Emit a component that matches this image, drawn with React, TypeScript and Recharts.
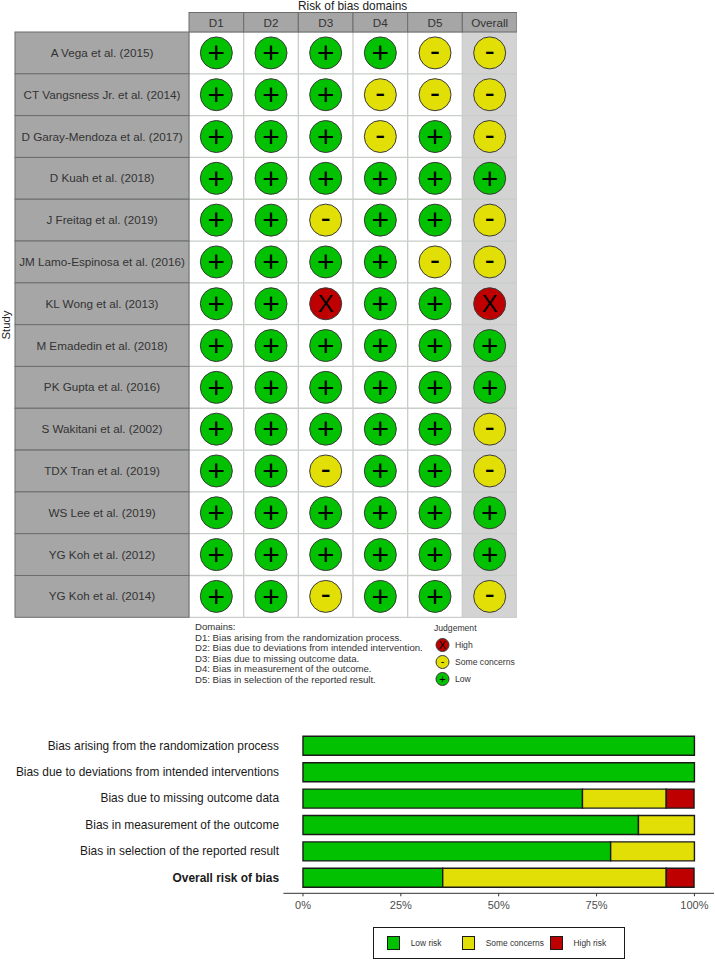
import {
  Bar,
  BarChart,
  Legend,
  ReferenceArea,
  ReferenceLine,
  Scatter,
  ScatterChart,
  XAxis,
  YAxis,
} from "recharts";

const FONT = '"Liberation Sans", Arial, sans-serif';

const studies = [
  "A Vega et al. (2015)",
  "CT Vangsness Jr. et al. (2014)",
  "D Garay-Mendoza et al. (2017)",
  "D Kuah et al. (2018)",
  "J Freitag et al. (2019)",
  "JM Lamo-Espinosa et al. (2016)",
  "KL Wong et al. (2013)",
  "M Emadedin et al. (2018)",
  "PK Gupta et al. (2016)",
  "S Wakitani et al. (2002)",
  "TDX Tran et al. (2019)",
  "WS Lee et al. (2019)",
  "YG Koh et al. (2012)",
  "YG Koh et al. (2014)",
];
const domains = ["D1", "D2", "D3", "D4", "D5", "Overall"];

// one string per domain, one character per study
const d1 = "++++++++++++++";
const d2 = "++++++++++++++";
const d3 = "++++-+X+++-++-";
const d4 = "+--+++++++++++";
const d5 = "--+++-++++++++";
const overall = "---+--X++--++-";
const judgements = [d1, d2, d3, d4, d5, overall];

const domainNotes = [
  "Domains:",
  "D1: Bias arising from the randomization process.",
  "D2: Bias due to deviations from intended intervention.",
  "D3: Bias due to missing outcome data.",
  "D4: Bias in measurement of the outcome.",
  "D5: Bias in selection of the reported result.",
];

const summaryLabels = [
  "Bias arising from the randomization process",
  "Bias due to deviations from intended interventions",
  "Bias due to missing outcome data",
  "Bias in measurement of the outcome",
  "Bias in selection of the reported result",
  "Overall risk of bias",
];
const lowRisk = [100, 100, 71.4, 85.7, 78.6, 35.7];
const someConcerns = [0, 0, 21.4, 14.3, 21.4, 57.1];
const highRisk = [0, 0, 7.1, 0, 0, 7.1];
const percentTicks = [0, 25, 50, 75, 100];

const GREEN = "#02C100";
const YELLOW = "#E2DF07";
const RED = "#BF0000";
const GRID = "#C9CEC9";

const pointsFor = (symbol: string) =>
  judgements.flatMap((col, x) =>
    col
      .split("")
      .map((c, y) => ({ x: x + 1, y: y + 1, c }))
      .filter((p) => p.c === symbol),
  );

const summaryData = summaryLabels.map((label, i) => ({
  label,
  low: lowRisk[i],
  some: someConcerns[i],
  high: highRisk[i],
}));

const colBounds = [0.5, 1.5, 2.5, 3.5, 4.5, 5.5, 6.5];
const rowBounds = studies.map((_, i) => i + 0.5).concat(studies.length + 0.5);

function Mark({ cx, cy, fill, symbol, r = 16, size = 30 }: any) {
  return (
    <g>
      <circle cx={cx} cy={cy} r={r} fill={fill} stroke="#3a3a3a" strokeWidth={1} />
      <text
        x={cx}
        y={cy}
        dy={symbol === "-" ? "0.27em" : "0.34em"}
        textAnchor="middle"
        fontSize={size}
        fontFamily={FONT}
        fill="#000"
      >
        {symbol}
      </text>
    </g>
  );
}

function StudyTick({ x, y, payload }: any) {
  const h = 585.3 / studies.length;
  return (
    <g>
      <rect x={x - 174} y={y - h / 2} width={174} height={h} fill="#A6A6A6" stroke="#6B6E6B" strokeWidth={1} />
      <text x={x - 87} y={y} dy="0.35em" textAnchor="middle" fontSize={11.7} fontFamily={FONT} fill="#333">
        {studies[payload.value - 1]}
      </text>
    </g>
  );
}

function DomainTick({ x, y, payload }: any) {
  const w = 328 / domains.length;
  return (
    <g>
      <rect x={x - w / 2} y={y - 19.5} width={w} height={19.5} fill="#A6A6A6" stroke="#6B6E6B" strokeWidth={1} />
      <text x={x} y={y - 9.5} dy="0.35em" textAnchor="middle" fontSize={11.7} fontFamily={FONT} fill="#333">
        {domains[payload.value - 1]}
      </text>
    </g>
  );
}

function JudgementLegend({ payload }: any) {
  const symbols = ["X", "-", "+"];
  return (
    <div style={{ fontFamily: FONT, fontSize: 8.6, color: "#333", position: "relative", height: 70 }}>
      <div style={{ position: "absolute", left: 0, top: 0 }}>Judgement</div>
      {(payload || []).map((item: any, i: number) => (
        <div key={item.value} style={{ position: "absolute", left: 0, top: 14 + i * 17 }}>
          <svg width={18} height={16} style={{ position: "absolute", left: 0, top: 0 }}>
            <Mark cx={8.5} cy={8} r={6.5} size={11} fill={item.payload.fill} symbol={symbols[i]} />
          </svg>
          <span style={{ position: "absolute", left: 21, top: 3, whiteSpace: "nowrap" }}>{item.value}</span>
        </div>
      ))}
    </div>
  );
}

function SummaryTick({ x, y, payload }: any) {
  const bold = payload.value === "Overall risk of bias";
  return (
    <text
      x={x}
      y={y}
      dy="0.35em"
      textAnchor="end"
      fontSize={11.9}
      fontFamily={FONT}
      fontWeight={bold ? "bold" : "normal"}
      fill="#1a1a1a"
    >
      {payload.value}
    </text>
  );
}

function SummaryLegend({ payload }: any) {
  const swatchX = [12.7, 87.7, 176];
  const labelX = [36.7, 111.7, 199.5];
  return (
    <div
      style={{
        position: "relative",
        width: 250,
        height: 30,
        border: "1px solid #1a1a1a",
        fontFamily: FONT,
        fontSize: 8.4,
        color: "#333",
      }}
    >
      {(payload || []).map((item: any, i: number) => (
        <div key={item.value}>
          <div
            style={{
              position: "absolute",
              left: swatchX[i],
              top: 7.7,
              width: 11,
              height: 12,
              background: item.payload.fill,
              border: "1px solid #1a1a1a",
            }}
          />
          <span style={{ position: "absolute", left: labelX[i], top: 10, whiteSpace: "nowrap" }}>{item.value}</span>
        </div>
      ))}
    </div>
  );
}

export default function App() {
  return (
    <div style={{ position: "absolute", left: 0, top: 0, width: 715, height: 960, background: "#fff", overflow: "hidden" }}>
      <div style={{ position: "absolute", left: 0, top: 0 }}>
        <ScatterChart
          width={517}
          height={700}
          margin={{ top: 12.5, right: 0, bottom: 12.7, left: 0 }}
          style={{ fontFamily: FONT }}
        >
          <XAxis
            type="number"
            dataKey="x"
            orientation="top"
            domain={[0.5, 6.5]}
            ticks={[1, 2, 3, 4, 5, 6]}
            height={19.5}
            tick={<DomainTick />}
            tickSize={0}
            tickMargin={0}
            tickLine={false}
            axisLine={false}
            interval={0}
            allowDataOverflow
          />
          <YAxis
            type="number"
            dataKey="y"
            reversed
            domain={[0.5, 14.5]}
            ticks={studies.map((_, i) => i + 1)}
            width={189}
            tick={<StudyTick />}
            tickSize={0}
            tickMargin={0}
            tickLine={false}
            axisLine={false}
            interval={0}
            allowDataOverflow
          />
          <ReferenceArea x1={5.5} x2={6.5} y1={0.5} y2={14.5} fill="#D3D3D3" fillOpacity={1} stroke="none" />
          {colBounds.map((v) => (
            <ReferenceLine key={"c" + v} x={v} stroke={GRID} strokeWidth={1.3} />
          ))}
          {rowBounds.map((v) => (
            <ReferenceLine key={"r" + v} y={v} stroke={GRID} strokeWidth={1.3} />
          ))}
          <Scatter
            name="High"
            data={pointsFor("X")}
            fill={RED}
            isAnimationActive={false}
            shape={(p: any) => <Mark cx={p.cx} cy={p.cy} fill={RED} symbol="X" size={24} />}
          />
          <Scatter
            name="Some concerns"
            data={pointsFor("-")}
            fill={YELLOW}
            isAnimationActive={false}
            shape={(p: any) => <Mark cx={p.cx} cy={p.cy} fill={YELLOW} symbol="-" />}
          />
          <Scatter
            name="Low"
            data={pointsFor("+")}
            fill={GREEN}
            isAnimationActive={false}
            shape={(p: any) => <Mark cx={p.cx} cy={p.cy} fill={GREEN} symbol="+" />}
          />
          <Legend
            itemSorter={null}
            content={<JudgementLegend />}
            wrapperStyle={{ position: "absolute", left: 434, top: 623, width: 83, height: 70, bottom: "auto" }}
          />
        </ScatterChart>
      </div>

      <div style={{ position: "absolute", left: 298, top: 0, fontFamily: FONT, fontSize: 11.85, color: "#222", lineHeight: "12px" }}>
        Risk of bias domains
      </div>
      <div
        style={{
          position: "absolute",
          left: 6,
          top: 325,
          fontFamily: FONT,
          fontSize: 11.4,
          color: "#222",
          transform: "translate(-50%, -50%) rotate(-90deg)",
        }}
      >
        Study
      </div>
      <div style={{ position: "absolute", left: 195, top: 622, fontFamily: FONT, fontSize: 9.6, lineHeight: "10.6px", color: "#333", whiteSpace: "nowrap" }}>
        {domainNotes.map((line) => (
          <div key={line}>{line}</div>
        ))}
      </div>

      <div style={{ position: "absolute", left: 0, top: 700 }}>
        <BarChart
          width={715}
          height={260}
          layout="vertical"
          data={summaryData}
          barSize={19}
          margin={{ top: 29.7, right: 1, bottom: 0, left: 0 }}
          style={{ fontFamily: FONT }}
        >
          <XAxis
            type="number"
            domain={[-5, 105]}
            ticks={percentTicks}
            tickFormatter={(v: number) => v + "%"}
            allowDataOverflow
            height={34.7}
            tick={{ fontSize: 11, fill: "#4D4D4D" }}
            tickSize={3}
            tickMargin={5}
            tickLine={{ stroke: "#333" }}
            axisLine={{ stroke: "#333", strokeWidth: 1 }}
          />
          <YAxis
            type="category"
            dataKey="label"
            width={283.4}
            tick={<SummaryTick />}
            tickSize={0}
            tickMargin={4.4}
            tickLine={false}
            axisLine={false}
            interval={0}
            padding={{ top: 2.6, bottom: 2.6 }}
          />
          <Bar dataKey="low" name="Low risk" stackId="a" fill={GREEN} stroke="#1a1a1a" strokeWidth={1.4} isAnimationActive={false} />
          <Bar dataKey="some" name="Some concerns" stackId="a" fill={YELLOW} stroke="#1a1a1a" strokeWidth={1.4} isAnimationActive={false} />
          <Bar dataKey="high" name="High risk" stackId="a" fill={RED} stroke="#1a1a1a" strokeWidth={1.4} isAnimationActive={false} />
          <Legend
            itemSorter={null}
            content={<SummaryLegend />}
            wrapperStyle={{ position: "absolute", left: 373, top: 227, width: 252, height: 32, bottom: "auto" }}
          />
        </BarChart>
      </div>
    </div>
  );
}
